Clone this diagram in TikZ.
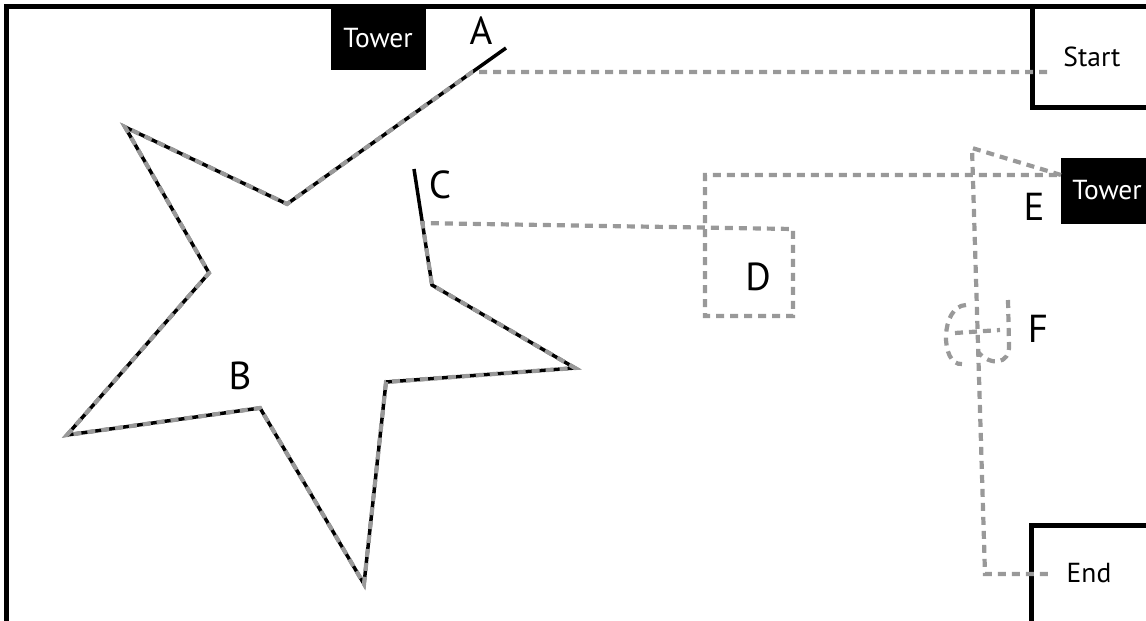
\documentclass[tikz,border=0pt]{standalone}
\usepackage{fontspec}
\setmainfont{PT Sans}
\usetikzlibrary{calc}
\definecolor{pathgray}{RGB}{153,153,153}
\begin{document}
\begin{tikzpicture}[x=1pt,y=-1pt,
  framestyle/.style={draw=black, line width=5pt},
  route/.style={draw=pathgray, line width=4.2pt, dash pattern=on 8pt off 6pt},
  wall/.style={draw=black, line width=3.5pt, line join=miter},
  towertext/.style={text=white, font=\fontsize{27.5}{32}\selectfont, inner sep=0pt},
  boxtext/.style={text=black, font=\fontsize{27.5}{32}\selectfont, inner sep=0pt},
  lbl/.style={text=black, font=\fontsize{39}{44}\selectfont, inner sep=0pt}]
\useasboundingbox (0,0) rectangle (1146,621);
\clip (0,0) rectangle (1146,621);
% frame
\draw[framestyle] (6,640) -- (6,6.5) -- (1160,6.5);
% start and end boxes
\draw[framestyle] (1160,107) -- (1032,107) -- (1032,6.5);
\draw[framestyle] (1160,525) -- (1031,525) -- (1031,640);
\node[boxtext] (start) at (1092,57) {Start};
\node[boxtext] (end) at (1089,573) {End};
% towers
\fill[black] (331,6) rectangle (426,70);
\node[towertext] (tower1) at (378,38) {Tower};
\fill[black] (1061,158) rectangle (1160,224);
\node[towertext] (tower2) at (1107,190) {Tower};
% star wall
\coordinate (a1) at (506,48);
\coordinate (s1) at (287,204);
\coordinate (s2) at (125,127);
\coordinate (s3) at (209,273);
\coordinate (s4) at (67,435);
\coordinate (s5) at (260,408);
\coordinate (s6) at (364,584);
\coordinate (s7) at (386,382);
\coordinate (s8) at (575,368);
\coordinate (s9) at (432,285);
\coordinate (c1) at (414,169);
\draw[wall] (a1) -- (s1) -- (s2) -- (s3) -- (s4) -- (s5) -- (s6) -- (s7) -- (s8) -- (s9) -- (c1);
% route points
\coordinate (rs) at (1047,72);
\coordinate (ra) at ($(a1)!0.154!(s1)$);
\coordinate (rc) at ($(s9)!0.534!(c1)$);
\coordinate (d1) at (793,229);
\coordinate (d2) at (793,316);
\coordinate (d3) at (705,316);
\coordinate (d4) at (705,175);
\coordinate (te) at (1061,175);
\coordinate (v1) at (972,148);
\coordinate (v2) at (985,574);
\coordinate (re) at (1052,574);
\draw[route] (rs) -- (ra) -- (s1) -- (s2) -- (s3) -- (s4) -- (s5) -- (s6) -- (s7) -- (s8) -- (s9) -- (rc) -- (d1) -- (d2) -- (d3) -- (d4) -- (te);
\draw[route] (te) -- (v1) -- (v2) -- (re);
% F loop
\draw[route] (966,305) .. controls (940,306) and (940,366) .. (962,364);
\draw[route] (955,333) -- (1000,330);
\draw[route] (1008,300) -- (1009,345) .. controls (1010,365) and (990,366) .. (978,352);
% labels
\node[lbl] (la) at (481,31) {A};
\node[lbl] (lb) at (240,376) {B};
\node[lbl] (lc) at (440,185) {C};
\node[lbl] (ld) at (758,277) {D};
\node[lbl] (le) at (1034,207) {E};
\node[lbl] (lf) at (1038,329) {F};
\end{tikzpicture}
\end{document}
